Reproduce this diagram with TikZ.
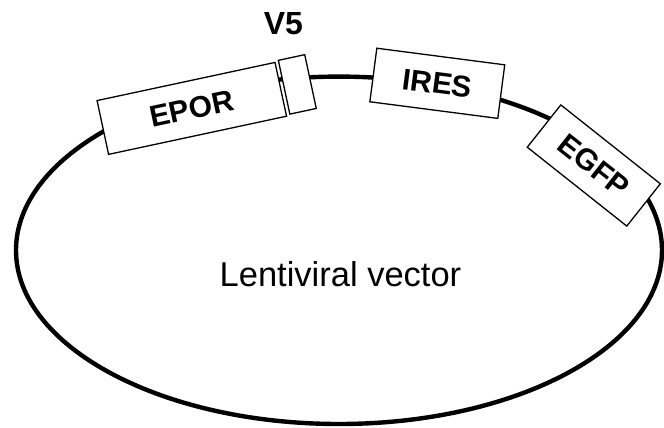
\documentclass[tikz,border=0pt]{standalone}
\usepackage{fontspec}
\setmainfont{Liberation Sans}
\usetikzlibrary{positioning}

\begin{document}
\begin{tikzpicture}[x=1pt, y=-1pt,
  blk/.style={draw, fill=white, line width=1.3pt, minimum height=55pt, inner sep=0pt,
    font=\fontsize{30}{32}\selectfont\bfseries},
  lbl/.style={inner sep=0pt, font=\fontsize{32}{34}\selectfont\bfseries}]
  \useasboundingbox (0,0) rectangle (664,428);
  \draw[line width=4.4pt] (339,250.3) ellipse [x radius=323, y radius=173.7];
  \node[blk, minimum width=182pt, rotate=12.1] (epor) at (191.8,108.4) {EPOR};
  \node[blk, minimum width=27pt, rotate=12.1] (v5) at (297.3,84.4) {};
  \node[lbl] (v5lbl) at (283.4,23.4) {V5};
  \node[blk, minimum width=129pt, minimum height=54pt, rotate=-7.4] (ires) at (437.3,83.3) {IRES};
  \node[blk, minimum width=127pt, minimum height=54pt, rotate=-38.4] (egfp) at (593.8,165.5) {EGFP};
  \node[inner sep=0pt, font=\fontsize{34.5}{36}\selectfont] (vec) at (340.5,274) {Lentiviral vector};
\end{tikzpicture}
\end{document}
